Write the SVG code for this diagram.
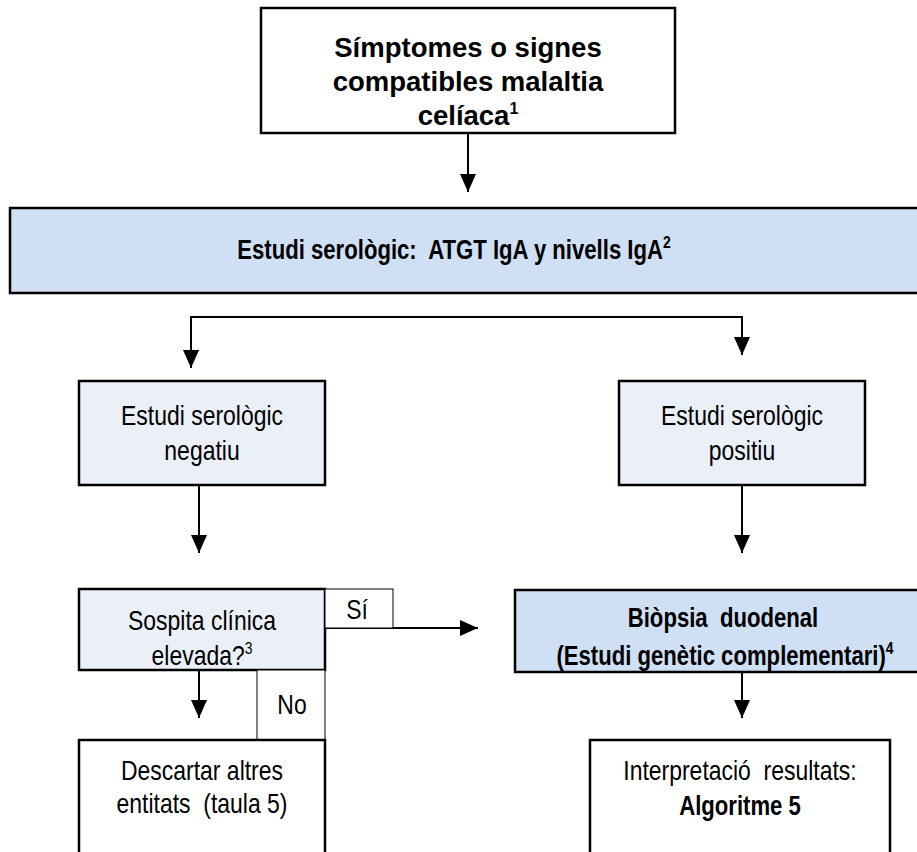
<svg xmlns="http://www.w3.org/2000/svg" width="917" height="852" viewBox="0 0 917 852">
<defs>
<style>
.box{stroke:#000;stroke-width:2.5;fill:#fff}
.blue{fill:#cfdff4}
.light{fill:#ebf0f8}
.thin{stroke:#000;stroke-width:1;fill:#fff}
.t{font-family:"Liberation Sans",Arial,sans-serif;font-size:28px;fill:#000;text-anchor:middle;white-space:pre}
.b{font-weight:bold;font-size:27px}
.title{font-family:"Liberation Sans",Arial,sans-serif;font-size:27.5px;font-weight:bold;fill:#000;text-anchor:middle}
.line{stroke:#000;stroke-width:2;fill:none}
</style>
<marker id="arr" viewBox="0 0 18 16" refX="18" refY="8" markerWidth="18" markerHeight="16" markerUnits="userSpaceOnUse" orient="auto">
<path d="M0,0 L18,8 L0,16 Z" fill="#000"/>
</marker>
</defs>
<rect width="917" height="852" fill="#fff"/>
<g id="connectors">
<line class="line" x1="468" y1="133" x2="468" y2="192" marker-end="url(#arr)"/>
<path class="line" d="M191,317 V368" marker-end="url(#arr)"/>
<path class="line" d="M190,317 H742 V355" marker-end="url(#arr)"/>
<line class="line" x1="199" y1="485" x2="199" y2="553" marker-end="url(#arr)"/>
<line class="line" x1="742" y1="485" x2="742" y2="553" marker-end="url(#arr)"/>
<line class="line" x1="325" y1="628" x2="478" y2="628" marker-end="url(#arr)"/>
<line class="line" x1="199" y1="670" x2="199" y2="718" marker-end="url(#arr)"/>
<line class="line" x1="742" y1="672" x2="742" y2="718" marker-end="url(#arr)"/>
</g>
<g id="n-simptomes">
<rect class="box" x="261" y="8" width="414" height="125"/>
<text class="title" x="468" y="57">Símptomes o signes</text>
<text class="title" x="468" y="91">compatibles malaltia</text>
<text class="title" x="468" y="125">celíaca<tspan font-size="16" dy="-11">1</tspan></text>
</g>
<g id="n-serologic">
<rect class="box blue" x="10" y="208" width="930" height="85"/>
<text class="t b" xml:space="preserve" transform="translate(454,259) scale(0.82,1)">Estudi serològic:  ATGT IgA y nivells IgA<tspan font-size="17" dy="-11">2</tspan></text>
</g>
<g id="n-negatiu">
<rect class="box light" x="79" y="381" width="246" height="104"/>
<text class="t" transform="translate(202,425) scale(0.82,1)">Estudi serològic</text>
<text class="t" transform="translate(202,460) scale(0.82,1)">negatiu</text>
</g>
<g id="n-positiu">
<rect class="box light" x="619" y="381" width="246" height="104"/>
<text class="t" transform="translate(742,425) scale(0.82,1)">Estudi serològic</text>
<text class="t" transform="translate(742,460) scale(0.82,1)">positiu</text>
</g>
<g id="n-sospita">
<rect class="box light" x="79" y="589" width="246" height="81"/>
<text class="t" transform="translate(202,630) scale(0.82,1)">Sospita clínica</text>
<text class="t" transform="translate(202,665) scale(0.82,1)">elevada?<tspan font-size="17" dy="-11">3</tspan></text>
</g>
<g id="n-si">
<rect class="thin" x="325" y="589" width="68" height="39"/>
<text class="t" transform="translate(357,619) scale(0.82,1)">Sí</text>
</g>
<g id="n-biopsia">
<rect class="box blue" x="515" y="590" width="430" height="82"/>
<text class="t b" xml:space="preserve" transform="translate(723,627) scale(0.82,1)">Biòpsia  duodenal</text>
<text class="t b" transform="translate(725,665) scale(0.82,1)">(Estudi genètic complementari)<tspan font-size="17" dy="-11">4</tspan></text>
</g>
<g id="n-no">
<rect class="thin" x="257" y="670" width="68" height="70"/>
<text class="t" transform="translate(292,714) scale(0.82,1)">No</text>
</g>
<g id="n-descartar">
<rect class="box" x="79" y="740" width="246" height="130"/>
<text class="t" transform="translate(202,780) scale(0.82,1)">Descartar altres</text>
<text class="t" xml:space="preserve" transform="translate(202,813) scale(0.82,1)">entitats  (taula 5)</text>
</g>
<g id="n-interpretacio">
<rect class="box" x="590" y="740" width="300" height="130"/>
<text class="t" xml:space="preserve" transform="translate(740,780) scale(0.82,1)">Interpretació  resultats:</text>
<text class="t b" transform="translate(740,815) scale(0.82,1)">Algoritme 5</text>
</g>
</svg>
